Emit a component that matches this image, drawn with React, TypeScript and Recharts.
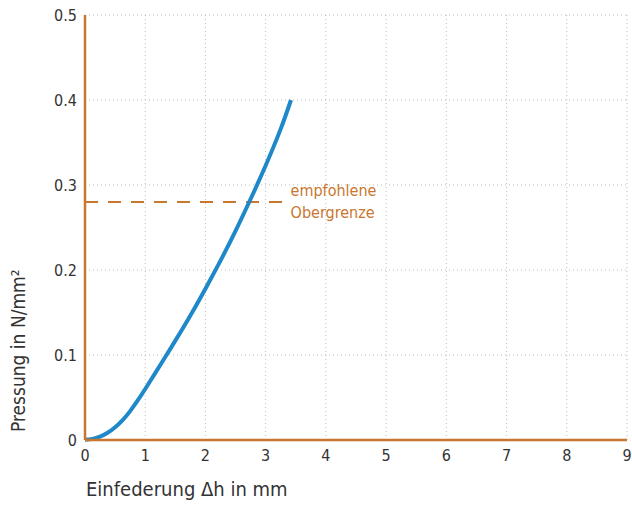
import React from 'react'
import {
  LineChart,
  Line,
  XAxis,
  YAxis,
  CartesianGrid,
  ReferenceLine
} from 'recharts'

// Einfederung in mm
const deflection = [0, 0.125, 0.25, 0.375, 0.5, 0.625, 0.75, 0.875, 1, 1.25, 1.5, 1.75, 2, 2.25, 2.5, 2.75, 3, 3.25, 3.42]
// Pressung in N/mm²
const pressure = [0.0003, 0.0013, 0.004, 0.0085, 0.015, 0.0235, 0.034, 0.0465, 0.06, 0.0883, 0.1169, 0.1465, 0.178, 0.211, 0.246, 0.2835, 0.323, 0.366, 0.4]

const xTicks = [0, 1, 2, 3, 4, 5, 6, 7, 8, 9]
const yTicks = [0, 0.1, 0.2, 0.3, 0.4, 0.5]

const limitValue = 0.28
const limitEnd = 3.43
const limitLabel = ['empfohlene', 'Obergrenze']

const ORANGE = '#c8772f'
const BLUE = '#1e88c9'
const FONT = '"DejaVu Sans Condensed", "DejaVu Sans", sans-serif'

const data = deflection.map((x, i) => ({ x, p: pressure[i] }))

export default function App() {
  return (
    <div style={{ width: 632, height: 506 }}>
      <style>{'body{margin:0}'}</style>
      <LineChart
        width={632}
        height={506}
        data={data}
        margin={{ top: 15, right: 5, left: 15, bottom: 0 }}
        style={{ fontFamily: FONT }}
      >
        <CartesianGrid stroke="#bdbdbd" strokeDasharray="1 3" />
        <XAxis
          dataKey="x"
          type="number"
          domain={[0, 9]}
          ticks={xTicks}
          height={66}
          tickLine={false}
          axisLine={{ stroke: ORANGE, strokeWidth: 2.5 }}
          tick={{ fill: '#333', fontSize: 16 }}
          tickMargin={4}
          label={{
            content: () => (
              <text x={86} y={496} fill="#333" fontSize={20} textAnchor="start">
                Einfederung Δh in mm
              </text>
            )
          }}
        />
        <YAxis
          type="number"
          domain={[0, 0.5]}
          ticks={yTicks}
          width={70}
          tickLine={false}
          axisLine={{ stroke: ORANGE, strokeWidth: 2.5 }}
          tick={{ fill: '#333', fontSize: 16 }}
          tickMargin={2}
          tickFormatter={(v: number) => (v === 0 ? '0' : v.toFixed(1))}
          label={{
            content: () => (
              <text
                x={25}
                y={432}
                fill="#333"
                fontSize={19}
                textAnchor="start"
                transform="rotate(-90, 25, 432)"
              >
                Pressung in N/mm²
              </text>
            )
          }}
        />
        <ReferenceLine
          segment={[
            { x: 0, y: limitValue },
            { x: limitEnd, y: limitValue }
          ]}
          stroke={ORANGE}
          strokeWidth={2}
          strokeDasharray="13 10"
          label={(props: any) => {
            const vb = props.viewBox || {}
            const x = (vb.x ?? 0) + (vb.width ?? 0) - 1
            const y = vb.y ?? 0
            return (
              <text x={x} y={y} fill={ORANGE} fontSize={16} textAnchor="start">
                <tspan x={x} dy={-6}>{limitLabel[0]}</tspan>
                <tspan x={x} dy={22}>{limitLabel[1]}</tspan>
              </text>
            )
          }}
        />
        <Line
          dataKey="p"
          type="natural"
          stroke={BLUE}
          strokeWidth={4}
          dot={false}
          isAnimationActive={false}
        />
      </LineChart>
    </div>
  )
}
